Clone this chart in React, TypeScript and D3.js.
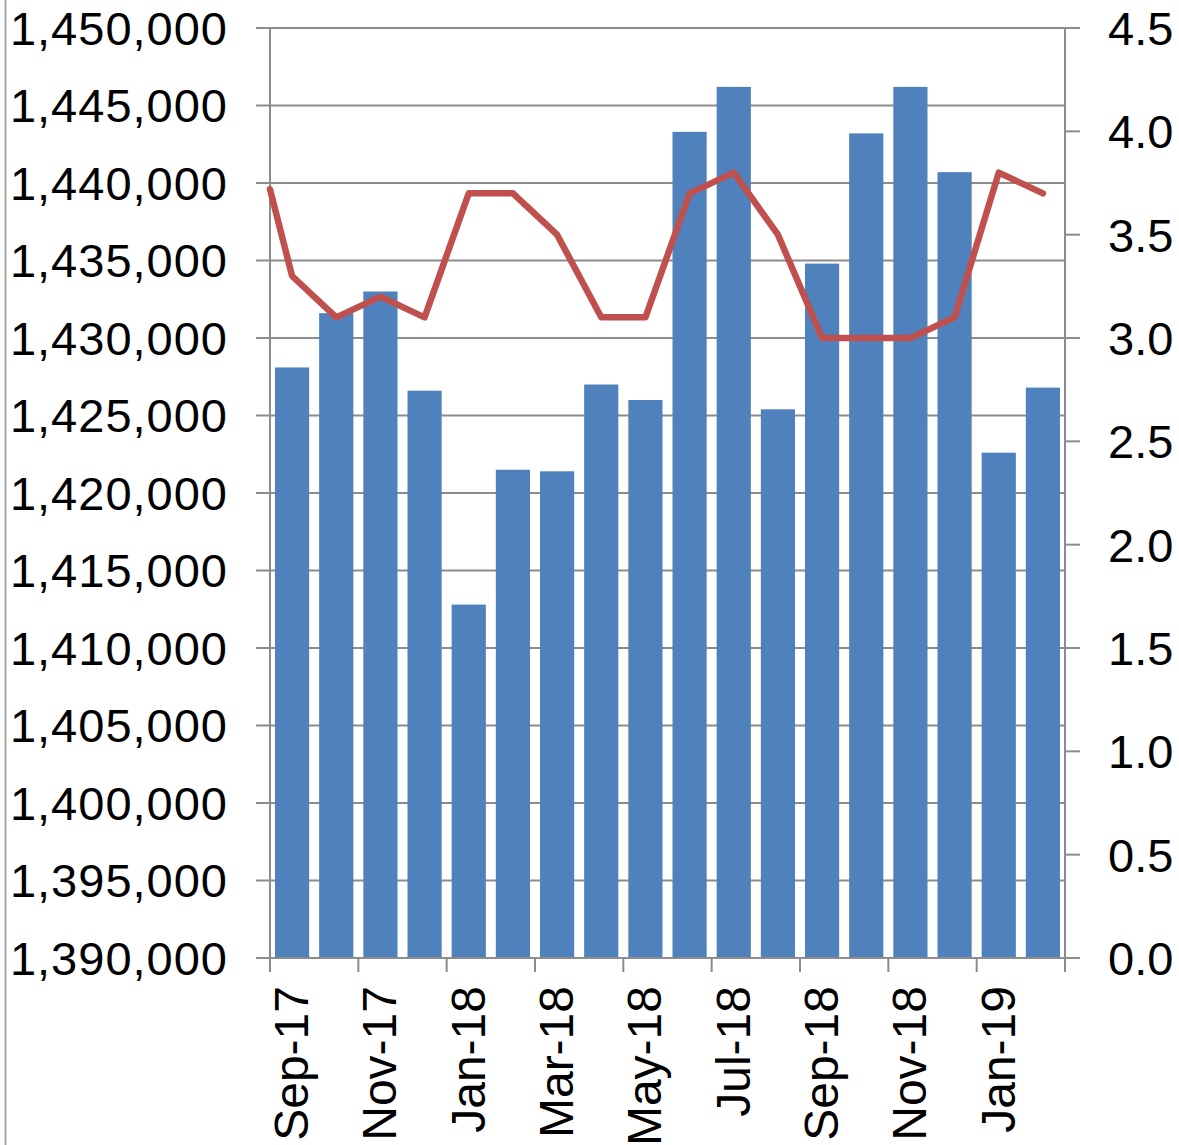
import React, { useRef, useEffect } from 'react';
import * as d3 from 'd3';

// monthly data, Sep-17 .. Feb-19
const months = [
    'Sep-17', 'Oct-17', 'Nov-17', 'Dec-17', 'Jan-18', 'Feb-18', 'Mar-18', 'Apr-18', 'May-18',
    'Jun-18', 'Jul-18', 'Aug-18', 'Sep-18', 'Oct-18', 'Nov-18', 'Dec-18', 'Jan-19', 'Feb-19',
];
const barValues = [
    1428100, 1431600, 1433000, 1426600, 1412800, 1421500, 1421400, 1427000, 1426000,
    1443300, 1446200, 1425400, 1434800, 1443200, 1446200, 1440700, 1422600, 1426800,
];
// line (right axis); the line begins at the left edge of the plot with this value
const lineStartValue = 3.72;
const lineValues = [
    3.3, 3.1, 3.2, 3.1, 3.7, 3.7, 3.5, 3.1, 3.1,
    3.7, 3.8, 3.5, 3.0, 3.0, 3.0, 3.1, 3.8, 3.7,
];
const leftTicks = d3.range(1390000, 1450001, 5000);
const rightTicks = d3.range(0, 4.51, 0.5);

const WIDTH = 1179;
const HEIGHT = 1145;

const App: React.FC = () => {
    const svgRef = useRef<SVGSVGElement | null>(null);

    useEffect(() => {
        const svg = d3.select(svgRef.current);
        svg.selectAll('*').remove();

        const left = 270, right = 1065, top = 28, bottom = 958;
        const font = '"Liberation Sans", Arial, sans-serif';
        const gray = '#8c8c8c';

        const x = d3.scaleBand<string>()
            .domain(months)
            .range([left, right])
            .paddingInner(0.226)
            .paddingOuter(0.113);
        const step = (right - left) / months.length;
        const center = (i: number) => left + step * (i + 0.5);

        const yL = d3.scaleLinear().domain([1390000, 1450000]).range([bottom, top]);
        const yR = d3.scaleLinear().domain([0, 4.5]).range([bottom, top]);

        // left chart border
        svg.append('line')
            .attr('x1', 5.5).attr('x2', 5.5)
            .attr('y1', 0).attr('y2', HEIGHT)
            .attr('stroke', '#a6a6a6').attr('stroke-width', 2);

        // gridlines
        svg.append('g')
            .selectAll('line')
            .data(leftTicks)
            .join('line')
            .attr('x1', left - 14).attr('x2', right)
            .attr('y1', d => yL(d)).attr('y2', d => yL(d))
            .attr('stroke', gray).attr('stroke-width', 2);

        // bars
        svg.append('g')
            .selectAll('rect')
            .data(barValues)
            .join('rect')
            .attr('x', (_, i) => x(months[i]) as number)
            .attr('width', x.bandwidth())
            .attr('y', d => yL(d))
            .attr('height', d => bottom - yL(d))
            .attr('fill', '#4f81bd');

        // axes lines
        svg.append('line')
            .attr('x1', left).attr('x2', left).attr('y1', top).attr('y2', bottom + 14)
            .attr('stroke', gray).attr('stroke-width', 2);
        svg.append('line')
            .attr('x1', right).attr('x2', right).attr('y1', top).attr('y2', bottom + 14)
            .attr('stroke', gray).attr('stroke-width', 2);
        svg.append('line')
            .attr('x1', left - 14).attr('x2', right + 14).attr('y1', bottom).attr('y2', bottom)
            .attr('stroke', gray).attr('stroke-width', 2);

        // right ticks
        svg.append('g')
            .selectAll('line')
            .data(rightTicks)
            .join('line')
            .attr('x1', right).attr('x2', right + 15)
            .attr('y1', d => yR(d)).attr('y2', d => yR(d))
            .attr('stroke', gray).attr('stroke-width', 2);

        // x ticks every second month
        const xTickIdx = d3.range(0, months.length + 1, 2);
        svg.append('g')
            .selectAll('line')
            .data(xTickIdx)
            .join('line')
            .attr('x1', i => left + step * i).attr('x2', i => left + step * i)
            .attr('y1', bottom).attr('y2', bottom + 14)
            .attr('stroke', gray).attr('stroke-width', 2);

        // line series
        const pts: [number, number][] = [[left, yR(lineStartValue)]];
        lineValues.forEach((v, i) => pts.push([center(i), yR(v)]));
        svg.append('path')
            .attr('d', d3.line()(pts) as string)
            .attr('fill', 'none')
            .attr('stroke', '#c0504d')
            .attr('stroke-width', 6.5)
            .attr('stroke-linejoin', 'round')
            .attr('stroke-linecap', 'round');

        // left tick labels
        const fmt = d3.format(',');
        svg.append('g')
            .selectAll('text')
            .data(leftTicks)
            .join('text')
            .attr('x', 228)
            .attr('y', d => yL(d))
            .attr('dy', '0.36em')
            .attr('text-anchor', 'end')
            .attr('font-family', font)
            .attr('font-size', 47)
            .attr('letter-spacing', 1)
            .text(d => fmt(d));

        // right tick labels
        svg.append('g')
            .selectAll('text')
            .data(rightTicks)
            .join('text')
            .attr('x', 1108)
            .attr('y', d => yR(d))
            .attr('dy', '0.36em')
            .attr('font-family', font)
            .attr('font-size', 47)
            .text(d => d.toFixed(1));

        // x labels, rotated
        svg.append('g')
            .selectAll('text')
            .data(months.filter((_, i) => i % 2 === 0))
            .join('text')
            .attr('transform', (_, k) => `translate(${center(k * 2) + 16},986) rotate(-90)`)
            .attr('text-anchor', 'end')
            .attr('font-family', font)
            .attr('font-size', 48)
            .text(d => d);
    }, []);

    return (
        <svg
            ref={svgRef}
            width={WIDTH}
            height={HEIGHT}
            style={{ position: 'absolute', left: 0, top: 0, background: '#fff' }}
        />
    );
};

export default App;
